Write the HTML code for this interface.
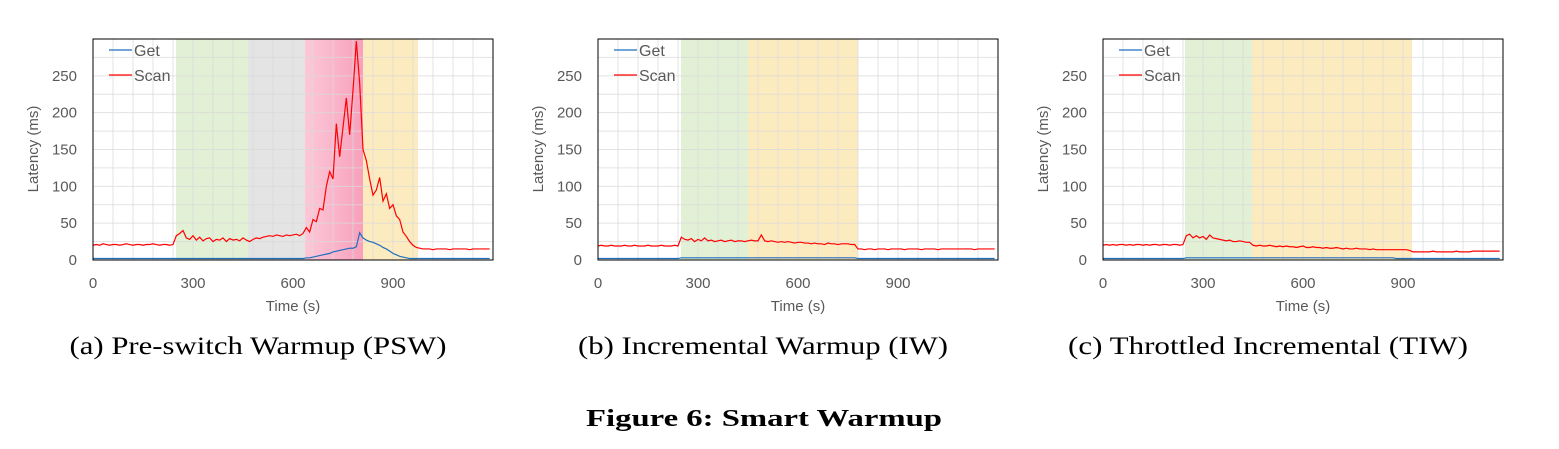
<!DOCTYPE html>
<html><head><meta charset="utf-8">
<style>
body{margin:0;background:#fff;}
svg{display:block;font-family:"Liberation Sans",sans-serif;}
.cap{font-family:"Liberation Serif",serif;font-size:25px;fill:#000;}
</style></head>
<body>
<svg id="fig" width="1559" height="449" viewBox="0 0 1559 449"></svg>
<script>
const xTicks=[0,300,600,900];
const yTicks=[0,50,100,150,200,250];
const seriesNames=["Get","Scan"];
const captions=["(a) Pre-switch Warmup (PSW)","(b) Incremental Warmup (IW)","(c) Throttled Incremental (TIW)"];
const bandsA=[[249,465,"green"],[465,636,"grey"],[636,810,"pink"],[810,975,"yellow"]];
const bandsB=[[249,450,"green"],[450,780,"yellow"]];
const bandsC=[[246,447,"green"],[447,927,"yellow"]];
const scanA=[20,21,20,22,21,20,21,21,20,21,22,21,20,21,21,20,21,21,22,21,20,21,21,20,21,
33,36,40,30,28,33,27,31,26,29,30,25,28,27,30,25,29,27,28,26,30,27,
25,28,30,29,31,32,33,32,34,33,32,34,33,34,35,33,36,
44,38,55,52,70,68,100,120,110,185,140,180,220,170,230,297,240,
150,135,110,88,95,112,80,90,70,75,60,55,38,32,25,20,
17,16,15,15,15,14,15,15,15,15,14,15,15,15,15,15,14,15,15,15,15,15,15];
const getA=[2,2,2,2,2,2,2,2,2,2,2,2,2,2,2,2,2,2,2,2,2,2,2,2,2,2,2,2,2,2,2,2,2,2,2,2,2,2,2,2,2,2,2,2,2,2,2,2,2,2,2,2,2,2,2,2,2,2,2,2,2,2,2,2,
3,3,4,5,6,7,8,9,11,12,13,14,15,16,16,18,37,
30,27,25,24,22,20,17,15,12,9,7,5,4,3,2,2,
2,2,2,2,2,2,2,2,2,2,2,2,2,2,2,2,2,2,2,2,2,2,2];
const scanB=[19,20,19,19,20,19,19,19,20,19,19,20,19,19,19,20,19,19,19,20,19,19,19,20,19,
31,28,27,29,25,28,26,30,26,27,
25,26,27,25,26,27,25,26,26,25,
26,27,26,26,34,26,25,26,25,24,
25,24,25,24,23,24,24,23,23,22,
23,22,22,21,23,22,22,21,22,22,
22,21,21,
15,15,14,15,15,14,15,15,15,14,15,15,15,15,14,15,15,15,15,14,15,15,15,15,14,15,15,15,15,15,15,15,15,15,15,14,15,15,15,15,15,15];
const getB=[2,2,2,2,2,2,2,2,2,2,2,2,2,2,2,2,2,2,2,2,2,2,2,2,2,
3,3,3,3,3,3,3,3,3,3,3,3,3,3,3,3,3,3,3,3,3,3,3,3,3,3,3,3,3,3,3,3,3,3,3,3,3,3,3,3,3,3,3,3,3,3,3,3,3,3,3,3,3,
2,2,2,2,2,2,2,2,2,2,2,2,2,2,2,2,2,2,2,2,2,2,2,2,2,2,2,2,2,2,2,2,2,2,2,2,2,2,2,2,2,2];
const scanC=[20,21,20,21,20,21,21,20,21,20,21,21,20,21,20,21,21,20,21,21,20,21,21,20,21,
33,35,30,33,30,32,28,34,30,29,28,27,26,27,25,25,26,25,24,24,
20,19,20,19,19,20,19,18,19,18,19,18,18,17,18,19,17,17,18,17,17,16,17,16,16,17,16,15,16,15,15,16,15,15,15,14,15,14,14,14,14,14,14,14,14,14,14,13,
11,11,11,11,11,11,12,11,11,11,11,11,11,12,11,11,11,11,12,12,12,12,12,12,12,12,12];
const getC=[2,2,2,2,2,2,2,2,2,2,2,2,2,2,2,2,2,2,2,2,2,2,2,2,2,
3,3,3,3,3,3,3,3,3,3,3,3,3,3,3,3,3,3,3,3,3,3,3,3,3,3,3,3,3,3,3,3,3,3,3,3,3,3,3,3,3,3,3,3,3,3,3,3,3,3,3,3,3,3,3,3,3,3,3,3,3,3,3,
2,2,2,2,2,2,2,2,2,2,2,2,2,2,2,2,2,2,2,2,2,2,2,2,2,2,2,2,2,2,2,2];
const charts=[{x0:93,bands:bandsA,get:getA,scan:scanA},{x0:598,bands:bandsB,get:getB,scan:scanB},{x0:1103,bands:bandsC,get:getC,scan:scanC}];
const NS="http://www.w3.org/2000/svg";
const svg=document.getElementById('fig');
function mk(tag,attrs,parent,text){const e=document.createElementNS(NS,tag);for(const k in attrs)e.setAttribute(k,attrs[k]);if(text!==undefined)e.textContent=text;(parent||svg).appendChild(e);return e;}
const defs=mk('defs',{});
const lg=mk('linearGradient',{id:'pinkg',x1:0,x2:1,y1:0,y2:0},defs);
mk('stop',{offset:0,'stop-color':'#fcc8d8'},lg);mk('stop',{offset:1,'stop-color':'#f8a0bc'},lg);
const bandColor={green:'#e2f0d5',grey:'#e4e4e4',pink:'url(#pinkg)',yellow:'#fdebc0'};
const W=400,TOP=39,BOT=260,XMAX=1200,YMAX=300;
charts.forEach((c,ci)=>{
  const g=mk('g',{});
  
  
  const sx=v=>c.x0+v/XMAX*W, sy=v=>BOT-v/YMAX*(BOT-TOP);
  c.bands.forEach(b=>{const r=mk('rect',{x:sx(b[0]),y:TOP,width:sx(b[1])-sx(b[0]),height:BOT-TOP,fill:bandColor[b[2]]},g);
    });
  for(let t=60;t<XMAX;t+=60)mk('line',{x1:sx(t),x2:sx(t),y1:TOP,y2:BOT,stroke:'#d9d9d9','stroke-opacity':0.75,'stroke-width':1},g);
  for(let v=25;v<YMAX;v+=25)mk('line',{x1:c.x0,x2:c.x0+W,y1:sy(v),y2:sy(v),stroke:'#d9d9d9','stroke-opacity':0.75,'stroke-width':1},g);
  const line=(arr,col,name)=>{const p=mk('polyline',{points:arr.map((v,i)=>sx(i*10)+','+sy(v)).join(' '),fill:'none',stroke:col,'stroke-width':1.2},g);
    };
  line(c.get,'#1f6fbf','get-line');line(c.scan,'#ff0000','scan-line');
  const fr=mk('rect',{x:c.x0,y:TOP,width:W,height:BOT-TOP,fill:'none',stroke:'#000','stroke-width':1},g);
  
  yTicks.forEach(v=>{const t=mk('text',{x:c.x0-16,y:sy(v)+5,'text-anchor':'end','font-size':15,fill:'#595959'},g,v);
    });
  xTicks.forEach(v=>{const t=mk('text',{x:sx(v),y:288,'text-anchor':'middle','font-size':15,fill:'#595959'},g,v);
    });
  const xt=mk('text',{x:c.x0+200,y:311,'text-anchor':'middle','font-size':15,fill:'#595959'},g,'Time (s)');
  
  const yt=mk('text',{x:0,y:0,transform:`translate(${c.x0-55},149) rotate(-90)`,'text-anchor':'middle','font-size':15,fill:'#595959'},g,'Latency (ms)');
  
  seriesNames.forEach((n,i)=>{const y=50+i*25;
    const le=mk('g',{},g);
    mk('line',{x1:c.x0+16,x2:c.x0+39,y1:y,y2:y,stroke:i?'#ff0000':'#1f6fbf','stroke-width':1.2},le);
    mk('text',{x:c.x0+41,y:y+6,'font-size':16,fill:'#595959'},le,n);});
  const capW=[377,370,400][ci];
  const cap=mk('text',{x:c.x0+165-capW/2,y:354,class:'cap',textLength:capW,lengthAdjust:'spacingAndGlyphs'},g,captions[ci]);
  
});
const ft=mk('text',{x:586,y:426,'font-family':'Liberation Serif, serif','font-size':24,'font-weight':'bold',textLength:356,lengthAdjust:'spacingAndGlyphs'},svg,'Figure 6: Smart Warmup');


</script>
</body></html>
